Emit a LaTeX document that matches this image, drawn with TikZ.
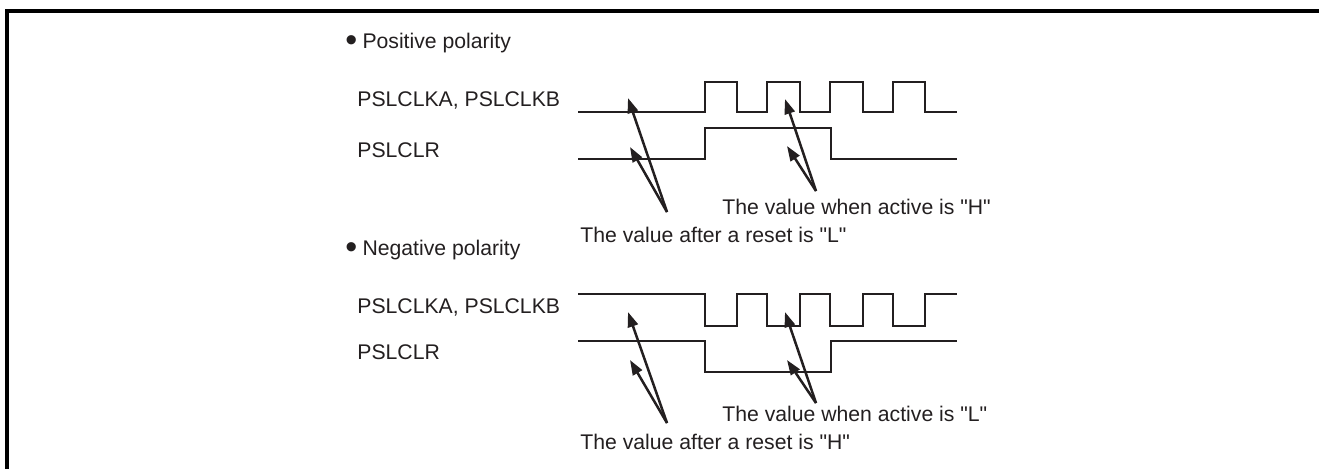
\documentclass[tikz,border=0pt]{standalone}
\usepackage{fontspec}
\setmainfont{Liberation Sans}
\usetikzlibrary{arrows.meta}
\definecolor{ink}{HTML}{231F20}
\newcommand{\bigdot}{{\fontsize{17}{17}\selectfont\raisebox{-0.09em}{\textbullet}}\hspace{2.6pt}}
\newcommand{\qt}[1]{\textquotedbl #1\textquotedbl}

\begin{document}
\begin{tikzpicture}[
    x=0.5pt, y=-0.5pt,
    every node/.style={font=\fontsize{10.6}{12.7}\selectfont, text=ink, inner sep=0pt, anchor=base west},
    sig/.style={draw=ink, line width=1.25pt},
    arr/.style={-{Triangle[length=7.5pt, width=5.2pt]}, draw=ink, fill=ink, line width=1.25pt},
    frame/.style={draw=black, line width=1.6pt}
]
\useasboundingbox (0,0) rectangle (1319,468);
\draw[frame] (7,11) rectangle (1340,490);

% Positive polarity
\node (posT) at (345,48) {\bigdot Positive polarity};
\node (posClk) at (357,106) {PSLCLKA, PSLCLKB};
\node (posClr) at (357,157) {PSLCLR};

\draw[sig] (578,112) -- (705,112) -- (705,82) -- (737,82) -- (737,112)
    -- (767,112) -- (767,82) -- (800,82) -- (800,112)
    -- (830,112) -- (830,82) -- (863,82) -- (863,112)
    -- (893,112) -- (893,82) -- (925,82) -- (925,112) -- (957,112);
\draw[sig] (578,159) -- (705,159) -- (705,128) -- (831,128) -- (831,159) -- (957,159);

\node (posAct) at (722,214) {The value when active is \qt{H}};
\node (posRst) at (580,242) {The value after a reset is \qt{L}};

\coordinate (posRstTail) at (667,212);
\coordinate (posActTail) at (816,191);
\coordinate (posClkRst) at (628,98);
\coordinate (posClrRst) at (630,147);
\coordinate (posClkAct) at (785,99);
\coordinate (posClrAct) at (787,146);

\draw[arr] (posRstTail) -- (posClkRst);
\draw[arr] (posRstTail) -- (posClrRst);
\draw[arr] (posActTail) -- (posClkAct);
\draw[arr] (posActTail) -- (posClrAct);

% Negative polarity
\node (negT) at (345,255) {\bigdot Negative polarity};
\node (negClk) at (357,313) {PSLCLKA, PSLCLKB};
\node (negClr) at (357,359) {PSLCLR};

\draw[sig] (578,294) -- (705,294) -- (705,326) -- (737,326) -- (737,294)
    -- (767,294) -- (767,326) -- (800,326) -- (800,294)
    -- (830,294) -- (830,326) -- (863,326) -- (863,294)
    -- (893,294) -- (893,326) -- (925,326) -- (925,294) -- (957,294);
\draw[sig] (578,341) -- (705,341) -- (705,372) -- (831,372) -- (831,341) -- (957,341);

\node (negAct) at (722,421) {The value when active is \qt{L}};
\node (negRst) at (580,449) {The value after a reset is \qt{H}};

\coordinate (negRstTail) at (667,423);
\coordinate (negActTail) at (816,403);
\coordinate (negClkRst) at (628,312);
\coordinate (negClrRst) at (630,360);
\coordinate (negClkAct) at (785,312);
\coordinate (negClrAct) at (787,360);

\draw[arr] (negRstTail) -- (negClkRst);
\draw[arr] (negRstTail) -- (negClrRst);
\draw[arr] (negActTail) -- (negClkAct);
\draw[arr] (negActTail) -- (negClrAct);

\end{tikzpicture}
\end{document}
